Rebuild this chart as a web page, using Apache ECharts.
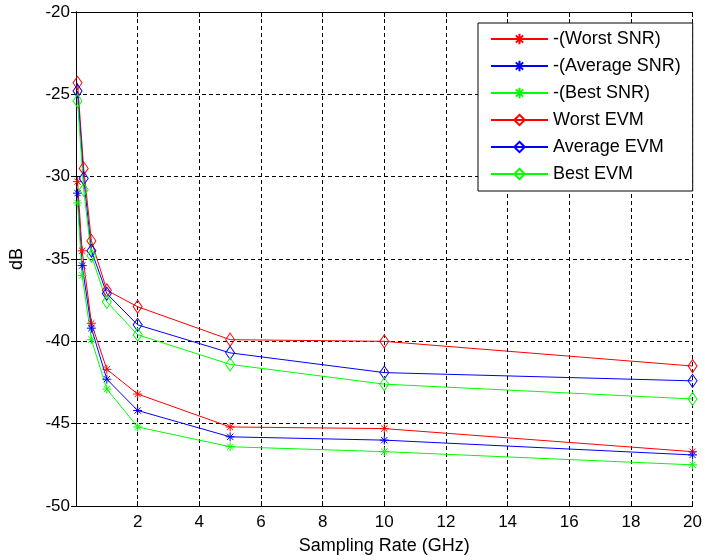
<!DOCTYPE html>
<html>
<head>
<meta charset="utf-8">
<script src="https://cdn.jsdelivr.net/npm/echarts@6/dist/echarts.min.js"></script>
<style>
  html, body { margin: 0; padding: 0; background: #fff; }
  #chart { width: 705px; height: 560px; }
</style>
</head>
<body>
<div id="chart"></div>
<script>
// Sampling rates (GHz) for each family of curves
const snrRate = [0.05, 0.2, 0.5, 1, 2, 5, 10, 20];
const evmRate = [0.05, 0.25, 0.5, 1, 2, 5, 10, 20];

// Negated SNR (dB)
const worstSnr = [-30.3, -34.5, -38.9, -41.7, -43.2, -45.2, -45.3, -46.7];
const avgSnr   = [-31.0, -35.4, -39.2, -42.3, -44.2, -45.8, -46.0, -46.9];
const bestSnr  = [-31.6, -36.0, -39.9, -42.9, -45.2, -46.4, -46.7, -47.5];

// EVM (dB)
const worstEvm = [-24.3, -29.5, -33.9, -36.9, -37.9, -39.9, -40.0, -41.5];
const avgEvm   = [-24.8, -30.1, -34.5, -37.1, -39.0, -40.7, -41.9, -42.4];
const bestEvm  = [-25.4, -30.8, -34.8, -37.6, -39.6, -41.4, -42.6, -43.5];

const seriesNames = ['-(Worst SNR)', '-(Average SNR)', '-(Best SNR)', 'Worst EVM', 'Average EVM', 'Best EVM'];

const FONT = 'Liberation Sans, Arial, sans-serif';
// asterisk marker made of four strokes
const STAR = 'path://M5 0 L5 10 M0 5 L10 5 M1.5 1.5 L8.5 8.5 M8.5 1.5 L1.5 8.5';

function pairs(xs, ys) { return xs.map((x, i) => [x, ys[i]]); }

function makeSeries(name, xs, ys, color, isStar) {
  return {
    name: name,
    type: 'line',
    data: pairs(xs, ys),
    clip: false,
    symbol: isStar ? STAR : 'diamond',
    symbolSize: isStar ? 9 : [9, 13],
    symbolKeepAspect: true,
    lineStyle: { color: color, width: 1 },
    itemStyle: { color: 'rgba(0,0,0,0)', borderColor: color, borderWidth: 1 },
    emphasis: { disabled: true }
  };
}

const chart = echarts.init(document.getElementById('chart'), null, { renderer: 'canvas' });

const axisCommon = {
  axisLine: { show: true, lineStyle: { color: '#000', width: 1 } },
  axisTick: { show: true, inside: true, length: 5, lineStyle: { color: '#000' } }
};

chart.setOption({
  animation: false,
  backgroundColor: '#fff',
  textStyle: { fontFamily: FONT },
  grid: { left: 73, top: 12, width: 627, height: 494, containLabel: false },
  legend: {
    data: seriesNames,
    orient: 'vertical',
    left: 478,
    top: 23,
    itemWidth: 57,
    itemHeight: 13,
    itemGap: 9,
    padding: [7, 12, 8, 12],
    backgroundColor: '#fff',
    borderColor: '#000',
    borderWidth: 1,
    textStyle: { fontFamily: FONT, fontSize: 18, color: '#000' }
  },
  xAxis: [
    Object.assign({
      type: 'value', min: 0, max: 20, interval: 2,
      name: 'Sampling Rate (GHz)', nameLocation: 'middle', nameGap: 31,
      nameTextStyle: { fontFamily: FONT, fontSize: 18, color: '#000' },
      axisLabel: { showMinLabel: false, fontFamily: FONT, fontSize: 17, color: '#000', margin: 8 },
      splitLine: { show: true, lineStyle: { color: '#000', type: [4, 3], width: 1 } }
    }, axisCommon),
    Object.assign({
      type: 'value', min: 0, max: 20, interval: 2, position: 'top',
      axisLabel: { show: false }, splitLine: { show: false }
    }, axisCommon)
  ],
  yAxis: [
    Object.assign({
      type: 'value', min: -50, max: -20, interval: 5,
      name: 'dB', nameLocation: 'middle', nameGap: 50,
      nameTextStyle: { fontFamily: FONT, fontSize: 18, color: '#000' },
      axisLabel: { fontFamily: FONT, fontSize: 17, color: '#000', margin: 6 },
      splitLine: { show: true, lineStyle: { color: '#000', type: [4, 3], width: 1 } }
    }, axisCommon),
    Object.assign({
      type: 'value', min: -50, max: -20, interval: 5, position: 'right',
      axisLabel: { show: false }, splitLine: { show: false }
    }, axisCommon)
  ],
  series: [
    makeSeries(seriesNames[0], snrRate, worstSnr, '#ff0000', true),
    makeSeries(seriesNames[1], snrRate, avgSnr, '#0000ff', true),
    makeSeries(seriesNames[2], snrRate, bestSnr, '#00ff00', true),
    makeSeries(seriesNames[3], evmRate, worstEvm, '#ff0000', false),
    makeSeries(seriesNames[4], evmRate, avgEvm, '#0000ff', false),
    makeSeries(seriesNames[5], evmRate, bestEvm, '#00ff00', false)
  ]
});
</script>
</body>
</html>
